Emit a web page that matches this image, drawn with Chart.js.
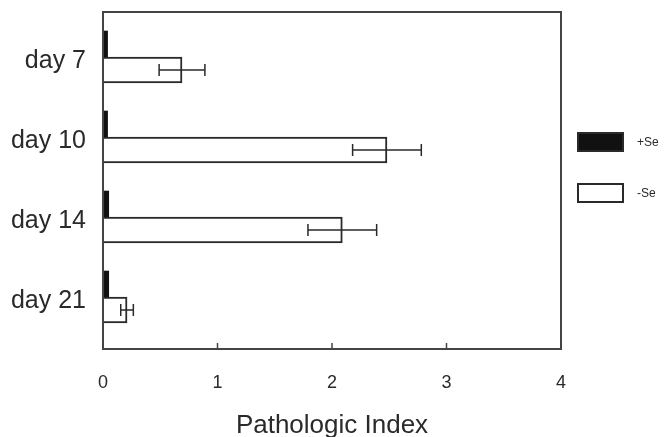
<!DOCTYPE html>
<html>
<head>
<meta charset="utf-8">
<script src="https://cdn.jsdelivr.net/npm/chart.js@4"></script>
<style>
  html, body { margin: 0; padding: 0; background: #fff; }
  #wrap { width: 667px; height: 437px; }
</style>
</head>
<body>
<div id="wrap"><canvas id="myChart" width="667" height="437"></canvas></div>
<script>
// Chart data
var categories = ['day 7', 'day 10', 'day 14', 'day 21'];
var plusSe = [0.04, 0.04, 0.05, 0.05];
var minusSe = [0.69, 2.48, 2.09, 0.21];
var minusSeErr = [0.2, 0.3, 0.3, 0.055];
var xTicks = [0, 1, 2, 3, 4];

var ink = '#2a2a2a';
var font = 'Liberation Sans, Arial, sans-serif';

// category positions on a numeric index axis
function toPoints(values) {
  return values.map(function (v, i) { return { x: v, y: i }; });
}

// frame round the plot with small inward ticks
var framePlugin = {
  id: 'frame',
  afterDraw: function (chart) {
    var ctx = chart.ctx;
    var a = chart.chartArea;
    var xs = chart.scales.x;
    ctx.save();
    ctx.strokeStyle = '#444';
    ctx.lineWidth = 2;
    ctx.strokeRect(a.left, a.top, a.right - a.left, a.bottom - a.top);
    ctx.lineWidth = 1.5;
    xTicks.slice(1, -1).forEach(function (t) {
      var px = xs.getPixelForValue(t);
      ctx.beginPath();
      ctx.moveTo(px, a.bottom);
      ctx.lineTo(px, a.bottom - 6);
      ctx.stroke();
    });
    ctx.restore();
  }
};

// error bars on the -Se bars
var errorBarPlugin = {
  id: 'errorBars',
  afterDatasetsDraw: function (chart) {
    var ctx = chart.ctx;
    var xs = chart.scales.x;
    var meta = chart.getDatasetMeta(1);
    ctx.save();
    ctx.strokeStyle = ink;
    ctx.lineWidth = 1.5;
    meta.data.forEach(function (bar, i) {
      var lo = xs.getPixelForValue(minusSe[i] - minusSeErr[i]);
      var hi = xs.getPixelForValue(minusSe[i] + minusSeErr[i]);
      var y = bar.y;
      ctx.beginPath();
      ctx.moveTo(lo, y); ctx.lineTo(hi, y);
      ctx.moveTo(lo, y - 6); ctx.lineTo(lo, y + 6);
      ctx.moveTo(hi, y - 6); ctx.lineTo(hi, y + 6);
      ctx.stroke();
    });
    ctx.restore();
  }
};

// legend to the right of the frame
var legendPlugin = {
  id: 'sideLegend',
  afterDraw: function (chart) {
    var ctx = chart.ctx;
    var rows = [133, 184];
    ctx.save();
    chart.data.datasets.forEach(function (ds, i) {
      var y = rows[i];
      ctx.fillStyle = ds.backgroundColor;
      ctx.fillRect(578, y, 45, 18);
      ctx.strokeStyle = ink;
      ctx.lineWidth = 2;
      ctx.strokeRect(578, y, 45, 18);
      ctx.fillStyle = ink;
      ctx.font = '12px ' + font;
      ctx.textBaseline = 'middle';
      ctx.fillText(ds.label, 637, y + 10);
    });
    ctx.restore();
  }
};

var ctx = document.getElementById('myChart').getContext('2d');

var myChart = new Chart(ctx, {
  type: 'bar',
  data: {
    datasets: [{
      label: '+Se',
      data: toPoints(plusSe),
      backgroundColor: '#111',
      borderWidth: 0,
      barThickness: 26
    }, {
      label: '-Se',
      data: toPoints(minusSe),
      backgroundColor: '#fff',
      borderColor: ink,
      borderWidth: 2,
      barThickness: 26
    }]
  },
  options: {
    indexAxis: 'y',
    responsive: false,
    animation: false,
    layout: { padding: { top: 12, right: 106, left: 0, bottom: 0 } },
    plugins: {
      legend: { display: false },
      tooltip: { enabled: false }
    },
    scales: {
      x: {
        type: 'linear',
        min: 0,
        max: 4,
        afterBuildTicks: function (scale) {
          scale.ticks = xTicks.map(function (v) { return { value: v }; });
        },
        afterFit: function (scale) {
          scale.height = 88;
          scale.paddingLeft = 0;
          scale.paddingRight = 0;
        },
        grid: { display: false, drawTicks: false },
        border: { display: false },
        ticks: { padding: 23, color: ink, font: { family: font, size: 18 } },
        title: {
          display: true,
          text: 'Pathologic Index',
          color: ink,
          font: { family: font, size: 26 },
          padding: { top: 0, bottom: -4 }
        }
      },
      y: {
        type: 'linear',
        reverse: true,
        offset: false,
        min: -0.5625,
        max: 3.65,
        afterBuildTicks: function (scale) {
          scale.ticks = categories.map(function (c, i) { return { value: i }; });
        },
        afterFit: function (scale) {
          scale.width = 103;
          scale.paddingTop = 0;
          scale.paddingBottom = 0;
        },
        grid: { display: false, drawTicks: false },
        border: { display: false },
        ticks: {
          padding: 17,
          labelOffset: 4,
          color: ink,
          font: { family: font, size: 25 },
          callback: function (value) { return categories[value]; }
        }
      }
    }
  },
  plugins: [framePlugin, errorBarPlugin, legendPlugin]
});
</script>
</body>
</html>
